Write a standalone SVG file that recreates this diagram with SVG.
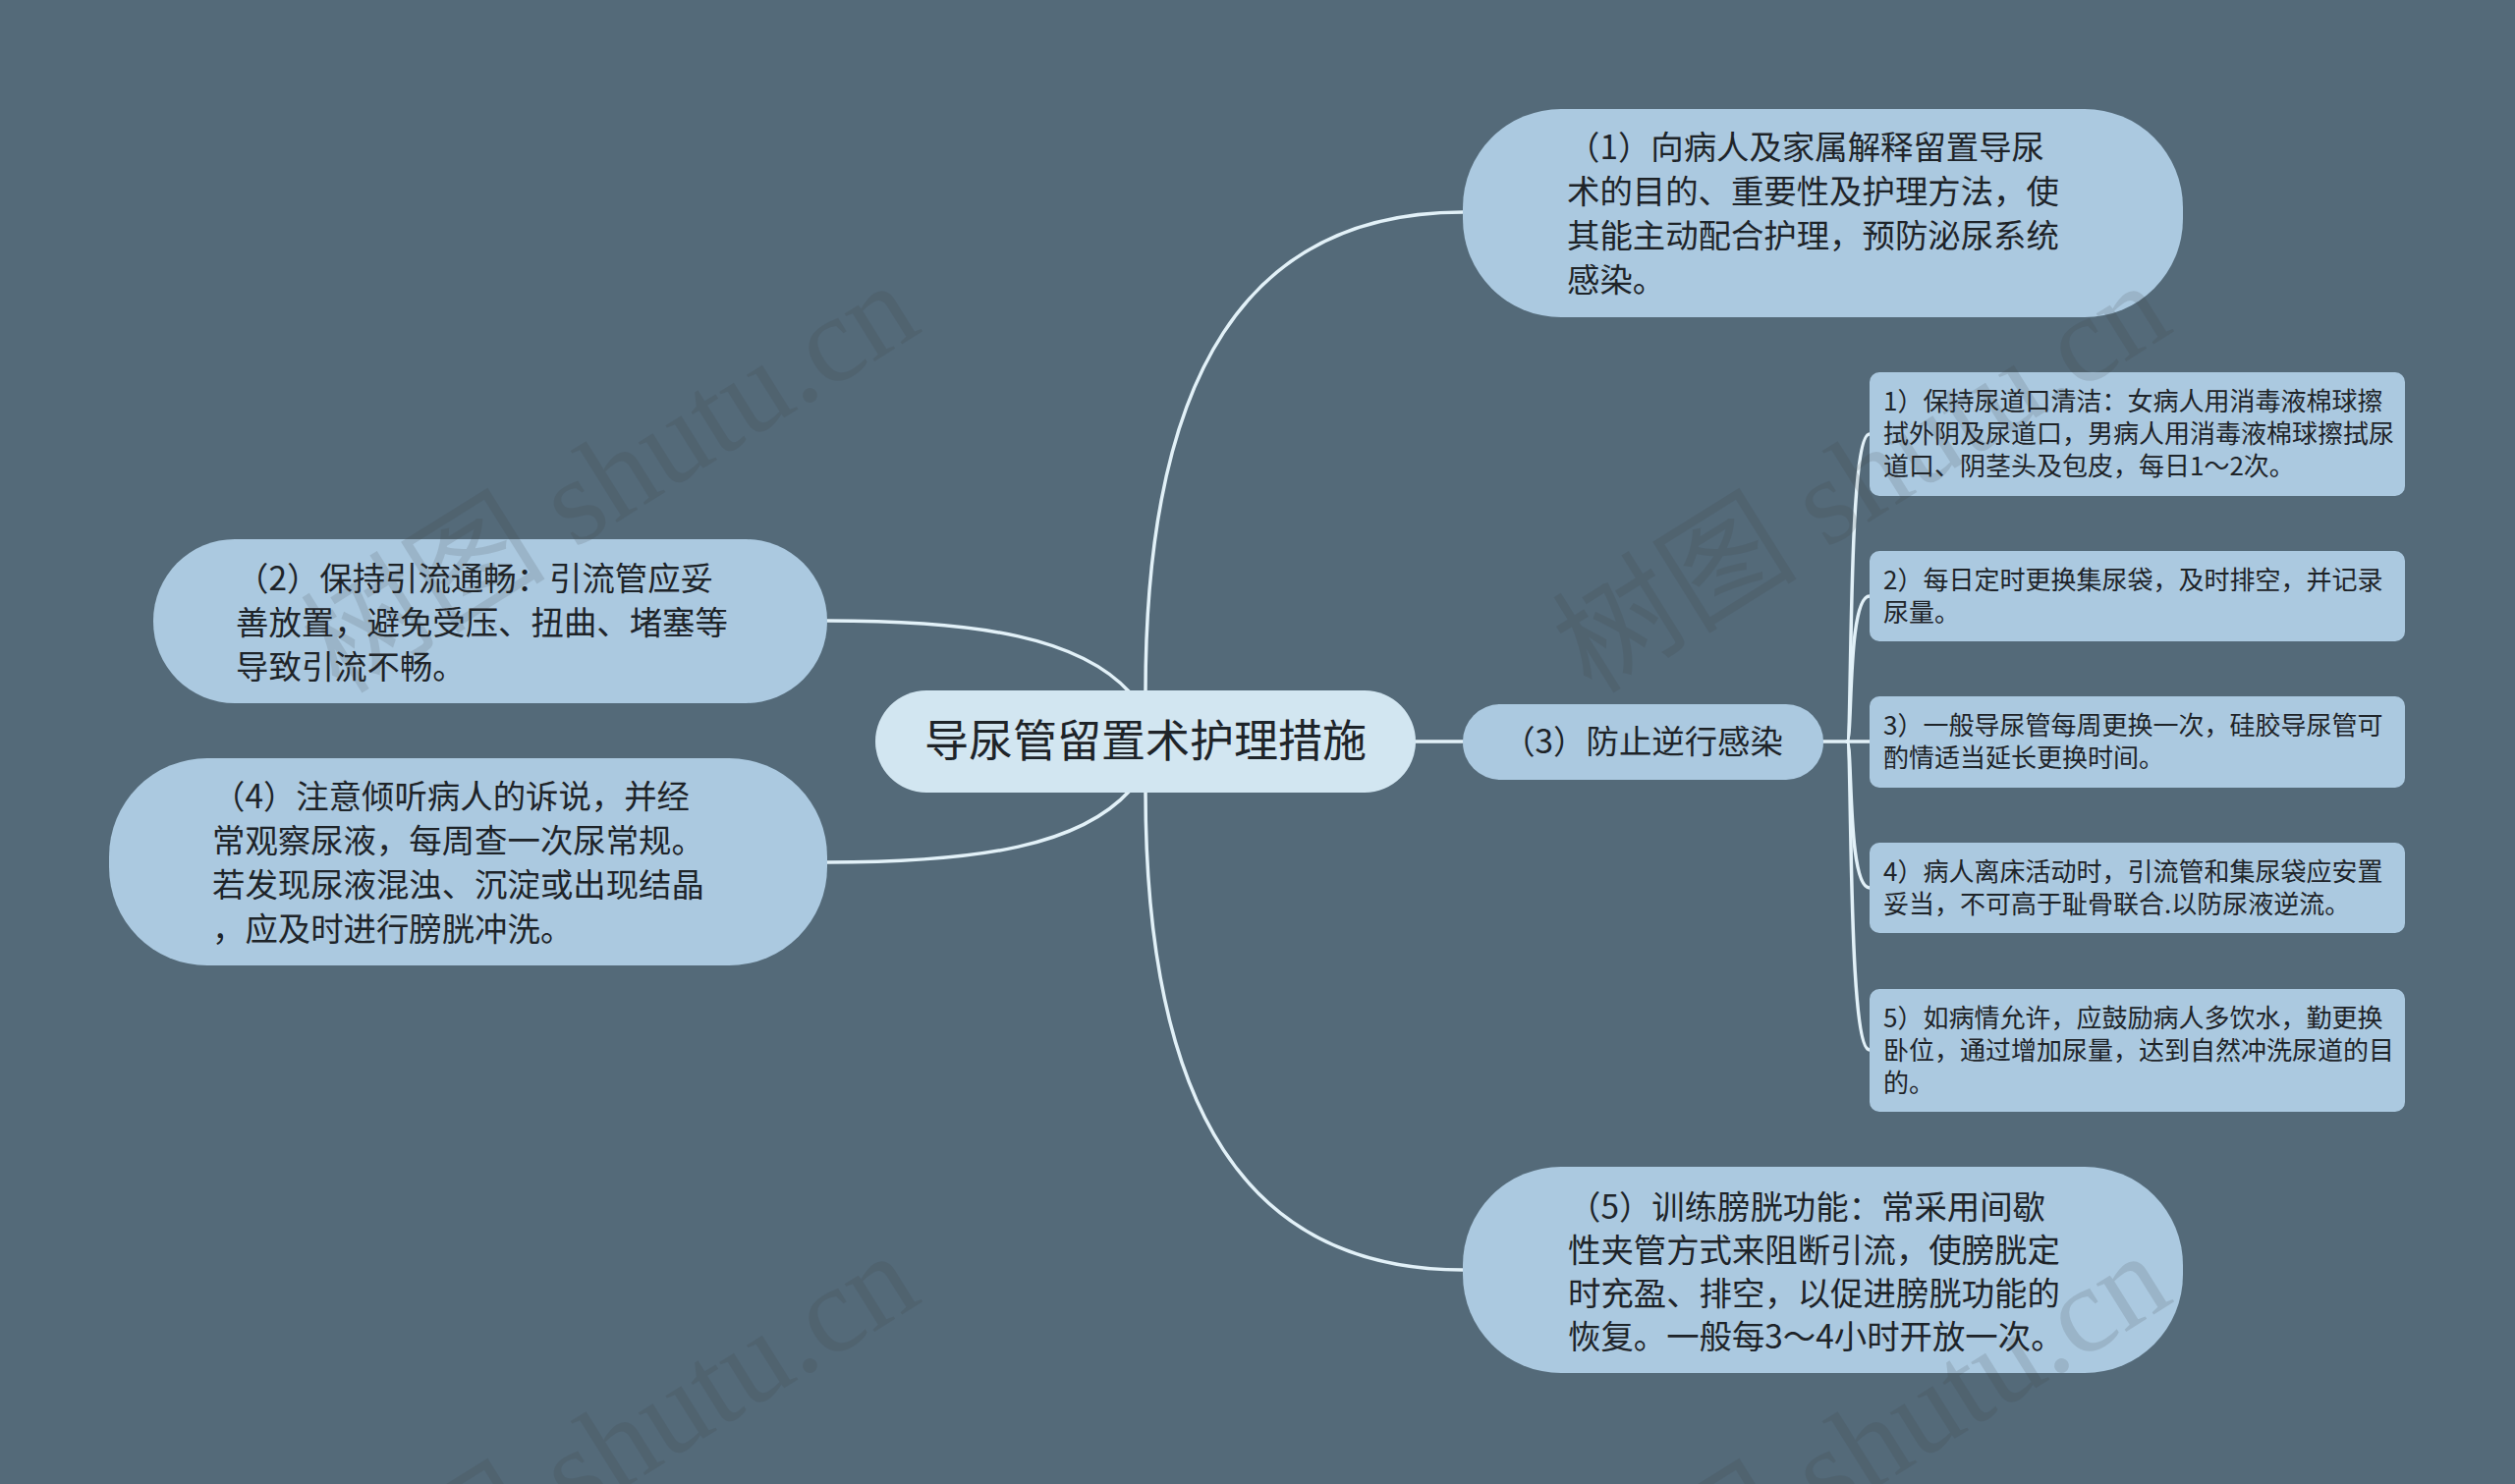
<svg xmlns="http://www.w3.org/2000/svg" width="2560" height="1511" viewBox="0 0 2560 1511">
<style>
.bg{fill:#546a79}
.main{fill:#abc9e0}
.root{fill:#d2e6f1}
.sub{fill:#abc9e0}
.t{font-family:"Noto Sans CJK SC","Noto Sans",sans-serif;fill:#1e2429}
.tm{font-size:33.4px}
.ts{font-size:26px}
.tr{font-size:45px}
.edge{fill:none;stroke:#e2f1f8;stroke-width:3.5;stroke-linecap:round}
.wm{font-family:"Liberation Serif","Noto Sans CJK SC",serif;font-size:125px;fill:#3a3a3a;opacity:0.14}
</style>
<rect class="bg" x="0" y="0" width="2560" height="1511"/>
<g id="connectors">
<path class="edge" d="M1166,705 C1166,380 1270,216 1489,216"/>
<path class="edge" d="M1166,805 C1166,1130 1270,1293 1489,1293"/>
<path class="edge" d="M842,632 C1000,632 1100,650 1150,705"/>
<path class="edge" d="M842,878 C1000,878 1100,860 1150,805"/>
<path class="edge" d="M1441,755 L1489,755"/>
<path class="edge" d="M1856,755 L1903,755"/>
<path class="edge" d="M1880,755 C1886,755 1880,442 1903,442"/>
<path class="edge" d="M1880,755 C1886,755 1880,607 1903,607"/>
<path class="edge" d="M1880,755 C1886,755 1880,904 1903,904"/>
<path class="edge" d="M1880,755 C1886,755 1880,1069 1903,1069"/>
</g>
<g id="root">
<rect class="root" x="891" y="703" width="550" height="104" rx="52"/>
<text class="t tr" x="1166" y="771" text-anchor="middle">导尿管留置术护理措施</text>
</g>
<g id="n1">
<rect class="main" x="1489" y="111" width="733" height="212" rx="100"/>
<text class="t tm"><tspan x="1595" y="162">（1）向病人及家属解释留置导尿</tspan><tspan x="1595" y="207">术的目的、重要性及护理方法，使</tspan><tspan x="1595" y="252">其能主动配合护理，预防泌尿系统</tspan><tspan x="1595" y="297">感染。</tspan></text>
</g>
<g id="n2">
<rect class="main" x="156" y="549" width="686" height="167" rx="83"/>
<text class="t tm"><tspan x="240" y="601">（2）保持引流通畅：引流管应妥</tspan><tspan x="240" y="646">善放置，避免受压、扭曲、堵塞等</tspan><tspan x="240" y="691">导致引流不畅。</tspan></text>
</g>
<g id="n3">
<rect class="main" x="1489" y="717" width="367" height="77" rx="38"/>
<text class="t tm" x="1672" y="767" text-anchor="middle">（3）防止逆行感染</text>
</g>
<g id="n4">
<rect class="main" x="111" y="772" width="731" height="211" rx="100"/>
<text class="t tm"><tspan x="216" y="823">（4）注意倾听病人的诉说，并经</tspan><tspan x="216" y="868">常观察尿液，每周查一次尿常规。</tspan><tspan x="216" y="913">若发现尿液混浊、沉淀或出现结晶</tspan><tspan x="216" y="958">，应及时进行膀胱冲洗。</tspan></text>
</g>
<g id="n5">
<rect class="main" x="1489" y="1188" width="733" height="210" rx="100"/>
<text class="t tm"><tspan x="1596" y="1241">（5）训练膀胱功能：常采用间歇</tspan><tspan x="1596" y="1285">性夹管方式来阻断引流，使膀胱定</tspan><tspan x="1596" y="1329">时充盈、排空，以促进膀胱功能的</tspan><tspan x="1596" y="1373">恢复。一般每3～4小时开放一次。</tspan></text>
</g>
<g id="s1">
<rect class="sub" x="1903" y="379" width="545" height="126" rx="10"/>
<text class="t ts"><tspan x="1917" y="418">1）保持尿道口清洁：女病人用消毒液棉球擦</tspan><tspan x="1917" y="451">拭外阴及尿道口，男病人用消毒液棉球擦拭尿</tspan><tspan x="1917" y="484">道口、阴茎头及包皮，每日1～2次。</tspan></text>
</g>
<g id="s2">
<rect class="sub" x="1903" y="561" width="545" height="92" rx="10"/>
<text class="t ts"><tspan x="1917" y="600">2）每日定时更换集尿袋，及时排空，并记录</tspan><tspan x="1917" y="633">尿量。</tspan></text>
</g>
<g id="s3">
<rect class="sub" x="1903" y="709" width="545" height="93" rx="10"/>
<text class="t ts"><tspan x="1917" y="748">3）一般导尿管每周更换一次，硅胶导尿管可</tspan><tspan x="1917" y="781">酌情适当延长更换时间。</tspan></text>
</g>
<g id="s4">
<rect class="sub" x="1903" y="858" width="545" height="92" rx="10"/>
<text class="t ts"><tspan x="1917" y="897">4）病人离床活动时，引流管和集尿袋应安置</tspan><tspan x="1917" y="930">妥当，不可高于耻骨联合.以防尿液逆流。</tspan></text>
</g>
<g id="s5">
<rect class="sub" x="1903" y="1007" width="545" height="125" rx="10"/>
<text class="t ts"><tspan x="1917" y="1046">5）如病情允许，应鼓励病人多饮水，勤更换</tspan><tspan x="1917" y="1079">卧位，通过增加尿量，达到自然冲洗尿道的目</tspan><tspan x="1917" y="1112">的。</tspan></text>
</g>
<g id="watermark">
<text class="wm" transform="translate(346,708) rotate(-32)">树图 shutu.cn</text>
<text class="wm" transform="translate(1620,708) rotate(-32)">树图 shutu.cn</text>
<text class="wm" transform="translate(346,1696) rotate(-32)">树图 shutu.cn</text>
<text class="wm" transform="translate(1620,1696) rotate(-32)">树图 shutu.cn</text>
</g>
</svg>
